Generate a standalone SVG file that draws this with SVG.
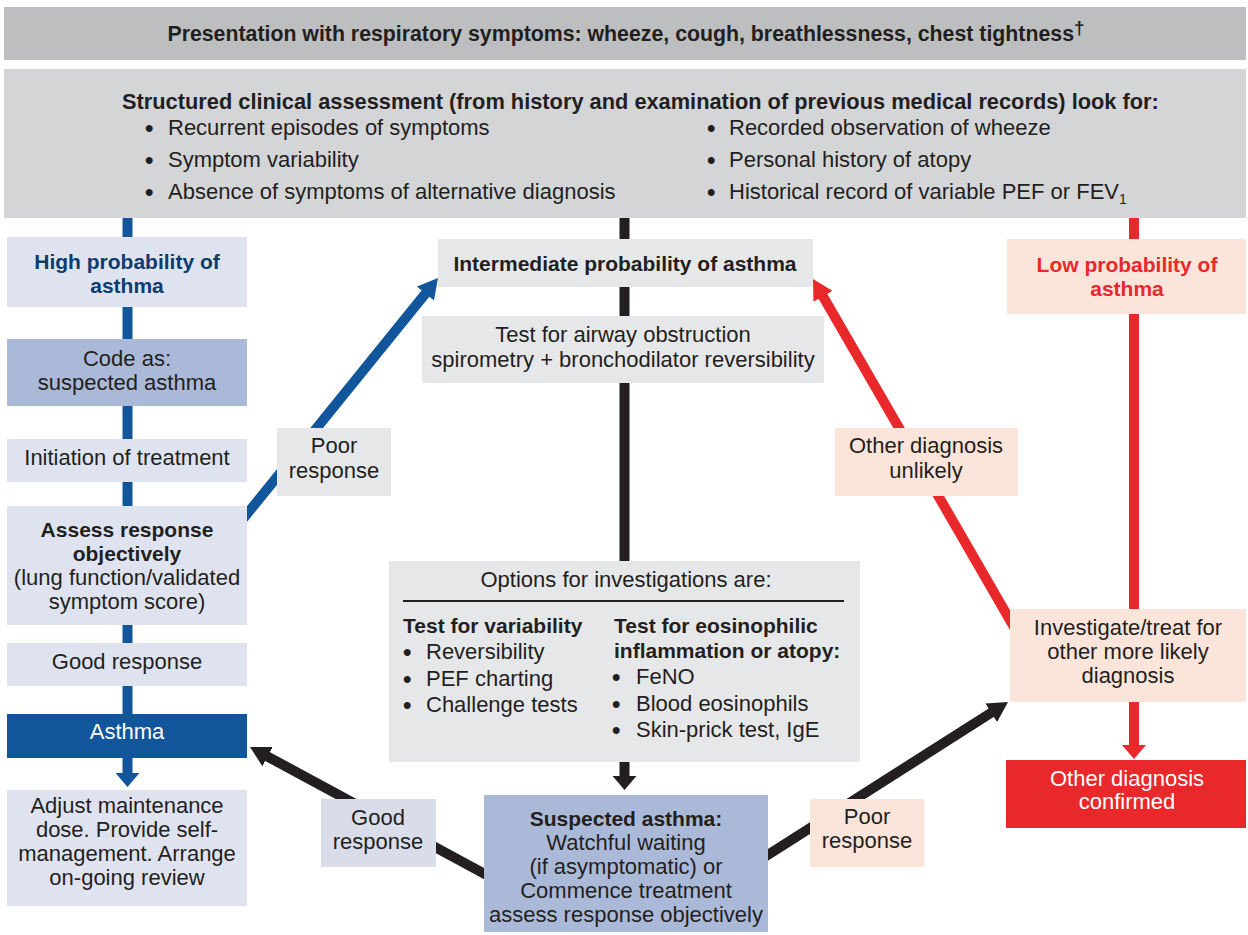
<svg xmlns="http://www.w3.org/2000/svg" width="1248" height="935" viewBox="0 0 1248 935">
<defs>
<style>
text{font-family:"Liberation Sans",Arial,Helvetica,sans-serif;font-size:22px;fill:#231f20;text-anchor:middle}
.b{font-weight:bold;font-size:21px}
.s{text-anchor:start}
.h{font-size:21.3px;font-weight:bold}
.h2{font-size:21.8px;font-weight:bold}
.w{fill:#ffffff}
.db{fill:#0d3c6e;font-weight:bold;font-size:21px}
.rd{fill:#e8282b;font-weight:bold;font-size:21px}
.bu{font-size:24px;font-weight:bold}
.gray{fill:#e6e7e8}
.lb{fill:#dfe3ef}
.mb{fill:#abb9d8}
.pe{fill:#fbe4da}
.blue{stroke:#11559a;stroke-width:10;fill:none}
.blk{stroke:#231f20;stroke-width:10;fill:none}
.red{stroke:#e8282b;stroke-width:10;fill:none}
</style>
<marker id="hb" viewBox="0 0 20 22" markerUnits="userSpaceOnUse" markerWidth="20" markerHeight="22" refX="10" refY="11" orient="auto"><path d="M0,0 L20,11 L0,22 z" fill="#11559a"/></marker>
<marker id="hk" viewBox="0 0 20 22" markerUnits="userSpaceOnUse" markerWidth="20" markerHeight="22" refX="10" refY="11" orient="auto"><path d="M0,0 L20,11 L0,22 z" fill="#231f20"/></marker>
<marker id="hr" viewBox="0 0 20 22" markerUnits="userSpaceOnUse" markerWidth="20" markerHeight="22" refX="10" refY="11" orient="auto"><path d="M0,0 L20,11 L0,22 z" fill="#e8282b"/></marker>
<marker id="vb" viewBox="0 0 14 24" markerUnits="userSpaceOnUse" markerWidth="14" markerHeight="24" refX="7" refY="12" orient="auto"><path d="M0,0 L14,12 L0,24 z" fill="#11559a"/></marker>
<marker id="vk" viewBox="0 0 14 24" markerUnits="userSpaceOnUse" markerWidth="14" markerHeight="24" refX="7" refY="12" orient="auto"><path d="M0,0 L14,12 L0,24 z" fill="#231f20"/></marker>
<marker id="vr" viewBox="0 0 14 24" markerUnits="userSpaceOnUse" markerWidth="14" markerHeight="24" refX="7" refY="12" orient="auto"><path d="M0,0 L14,12 L0,24 z" fill="#e8282b"/></marker>
</defs>
<rect width="1248" height="935" fill="#ffffff"/>

<g id="connectors">
<line class="blue" x1="127.5" y1="218" x2="127.5" y2="780" marker-end="url(#vb)"/>
<line class="blk" x1="624.5" y1="218" x2="624.5" y2="561"/>
<line class="blk" x1="624.5" y1="762" x2="624.5" y2="783" marker-end="url(#vk)"/>
<line class="red" x1="1134" y1="218" x2="1134" y2="752" marker-end="url(#vr)"/>
<line class="blue" x1="230" y1="535" x2="431.7" y2="285.8" marker-end="url(#hb)"/>
<line class="blk" x1="520" y1="893" x2="258.8" y2="751.8" marker-end="url(#hk)"/>
<line class="blk" x1="730" y1="879" x2="999.6" y2="707.4" marker-end="url(#hk)"/>
<line class="red" x1="1025" y1="646" x2="818" y2="287.7" marker-end="url(#hr)"/>
</g>

<g id="presentation">
<rect x="4" y="7" width="1242" height="53" fill="#bcbec0"/>
<text class="h" x="626" y="41">Presentation with respiratory symptoms: wheeze, cough, breathlessness, chest tightness<tspan font-size="19" dy="-7">†</tspan></text>
</g>

<g id="assessment">
<rect x="4" y="69" width="1242" height="149" fill="#d4d5d7"/>
<text class="h2 s" x="122" y="109">Structured clinical assessment (from history and examination of previous medical records) look for:</text>
<text class="s" y="135"><tspan class="bu" x="145" dy="1">•</tspan><tspan x="168" dy="-1">Recurrent episodes of symptoms</tspan></text>
<text class="s" y="167"><tspan class="bu" x="145" dy="1">•</tspan><tspan x="168" dy="-1">Symptom variability</tspan></text>
<text class="s" y="199"><tspan class="bu" x="145" dy="1">•</tspan><tspan x="168" dy="-1">Absence of symptoms of alternative diagnosis</tspan></text>
<text class="s" y="135"><tspan class="bu" x="707" dy="1">•</tspan><tspan x="729" dy="-1">Recorded observation of wheeze</tspan></text>
<text class="s" y="167"><tspan class="bu" x="707" dy="1">•</tspan><tspan x="729" dy="-1">Personal history of atopy</tspan></text>
<text class="s" y="199"><tspan class="bu" x="707" dy="1">•</tspan><tspan x="729" dy="-1">Historical record of variable PEF or FEV<tspan font-size="14" dy="5">1</tspan></tspan></text>
</g>

<g id="high-probability">
<rect class="lb" x="7" y="237" width="240" height="70"/>
<text class="db" x="127" y="269">High probability of</text>
<text class="db" x="127" y="293">asthma</text>
</g>

<g id="code-suspected">
<rect class="mb" x="7" y="339" width="240" height="67"/>
<text x="127" y="366">Code as:</text>
<text x="127" y="390">suspected asthma</text>
</g>

<g id="initiation">
<rect class="lb" x="7" y="439" width="240" height="43"/>
<text x="127" y="465">Initiation of treatment</text>
</g>

<g id="assess-response">
<rect class="lb" x="7" y="506" width="240" height="119"/>
<text class="b" x="127" y="537">Assess response</text>
<text class="b" x="127" y="561">objectively</text>
<text x="127" y="585">(lung function/validated</text>
<text x="127" y="609">symptom score)</text>
</g>

<g id="good-response-left">
<rect class="lb" x="7" y="643" width="240" height="43"/>
<text x="127" y="669">Good response</text>
</g>

<g id="asthma">
<rect x="7" y="714" width="240" height="44" fill="#11559a"/>
<text class="w" x="127" y="739">Asthma</text>
</g>

<g id="adjust">
<rect class="lb" x="7" y="790" width="240" height="116"/>
<text x="127" y="813">Adjust maintenance</text>
<text x="127" y="837">dose. Provide self-</text>
<text x="127" y="861">management. Arrange</text>
<text x="127" y="885">on-going review</text>
</g>

<g id="poor-response-left">
<rect class="gray" x="277" y="428" width="114" height="68"/>
<text x="334" y="453">Poor</text>
<text x="334" y="478">response</text>
</g>

<g id="intermediate">
<rect class="gray" x="438" y="239" width="375" height="48"/>
<text class="b" x="625" y="271">Intermediate probability of asthma</text>
</g>

<g id="airway-test">
<rect class="gray" x="422" y="316" width="402" height="67"/>
<text x="623" y="342">Test for airway obstruction</text>
<text x="623" y="367">spirometry + bronchodilator reversibility</text>
</g>

<g id="options">
<rect class="gray" x="389" y="561" width="471" height="201"/>
<text x="626" y="587">Options for investigations are:</text>
<line x1="403" y1="601" x2="844" y2="601" stroke="#231f20" stroke-width="2"/>
<text class="b s" x="403" y="633">Test for variability</text>
<text class="s" y="659"><tspan class="bu" x="403" dy="1">•</tspan><tspan x="426" dy="-1">Reversibility</tspan></text>
<text class="s" y="686"><tspan class="bu" x="403" dy="1">•</tspan><tspan x="426" dy="-1">PEF charting</tspan></text>
<text class="s" y="712"><tspan class="bu" x="403" dy="1">•</tspan><tspan x="426" dy="-1">Challenge tests</tspan></text>
<text class="b s" x="614" y="633">Test for eosinophilic</text>
<text class="b s" x="614" y="658">inflammation or atopy:</text>
<text class="s" y="684"><tspan class="bu" x="612" dy="1">•</tspan><tspan x="636" dy="-1">FeNO</tspan></text>
<text class="s" y="711"><tspan class="bu" x="612" dy="1">•</tspan><tspan x="636" dy="-1">Blood eosinophils</tspan></text>
<text class="s" y="737"><tspan class="bu" x="612" dy="1">•</tspan><tspan x="636" dy="-1">Skin-prick test, IgE</tspan></text>
</g>

<g id="suspected-asthma">
<rect class="mb" x="484" y="795" width="284" height="137"/>
<text class="b" x="626" y="826">Suspected asthma:</text>
<text x="626" y="850">Watchful waiting</text>
<text x="626" y="874">(if asymptomatic) or</text>
<text x="626" y="898">Commence treatment</text>
<text x="626" y="922">assess response objectively</text>
</g>

<g id="good-response-label">
<rect x="321" y="799" width="115" height="68" fill="#d9dde9"/>
<text x="378" y="825">Good</text>
<text x="378" y="849">response</text>
</g>

<g id="poor-response-right">
<rect class="pe" x="810" y="799" width="114" height="68"/>
<text x="867" y="824">Poor</text>
<text x="867" y="848">response</text>
</g>

<g id="other-unlikely">
<rect class="pe" x="835" y="428" width="183" height="68"/>
<text x="926" y="453">Other diagnosis</text>
<text x="926" y="478">unlikely</text>
</g>

<g id="low-probability">
<rect class="pe" x="1007" y="239" width="239" height="75"/>
<text class="rd" x="1127" y="272">Low probability of</text>
<text class="rd" x="1127" y="296">asthma</text>
</g>

<g id="investigate">
<rect class="pe" x="1010" y="609" width="236" height="93"/>
<text x="1128" y="635">Investigate/treat for</text>
<text x="1128" y="659">other more likely</text>
<text x="1128" y="683">diagnosis</text>
</g>

<g id="other-confirmed">
<rect x="1006" y="760" width="240" height="68" fill="#e8282b"/>
<text class="w" x="1127" y="786">Other diagnosis</text>
<text class="w" x="1127" y="809">confirmed</text>
</g>
</svg>
